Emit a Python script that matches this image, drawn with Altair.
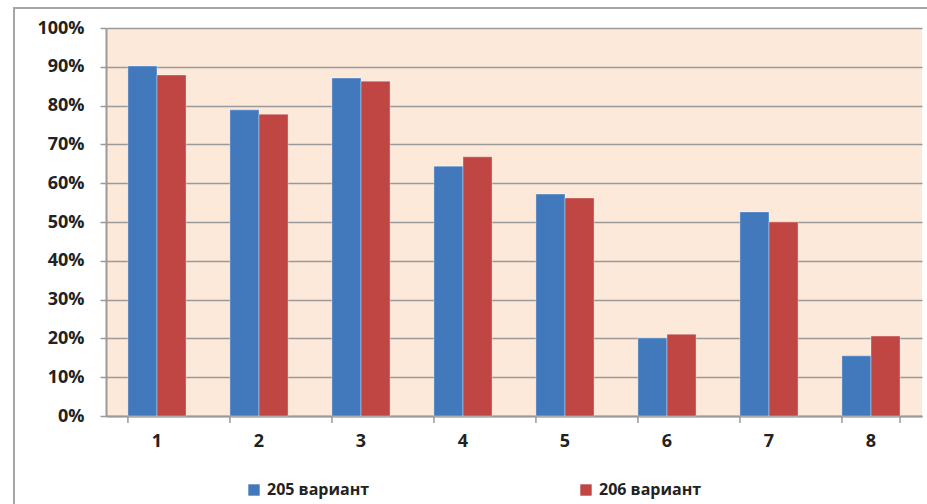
import altair as alt
import pandas as pd

categories = ["1", "2", "3", "4", "5", "6", "7", "8"]
variant_205 = [0.902, 0.789, 0.871, 0.644, 0.572, 0.201, 0.526, 0.155]
variant_206 = [0.879, 0.778, 0.863, 0.668, 0.562, 0.211, 0.500, 0.206]
series_names = ["205 вариант", "206 вариант"]
series_colors = ["#4279BC", "#BF4643"]

rows = []
for i, c in enumerate(categories):
    rows.append({"cat": c, "series": series_names[0], "value": variant_205[i]})
    rows.append({"cat": c, "series": series_names[1], "value": variant_206[i]})
df = pd.DataFrame(rows)
cats_df = pd.DataFrame({"cat": categories})

FONT = "Open Sans"
GRID = "#9A9A9A"
TEXT = "#222222"

x_enc = alt.X(
    "cat:N",
    sort=categories,
    scale=alt.Scale(paddingInner=0.43, paddingOuter=0.215),
    axis=alt.Axis(
        title=None, labelAngle=0, ticks=False, domain=True, domainColor=GRID,
        domainWidth=2, labelFontSize=18, labelFontWeight="bold", labelFont=FONT,
        labelColor=TEXT, labelPadding=16,
    ),
)

bars = alt.Chart(df).mark_bar(strokeWidth=1, strokeOpacity=0.35, stroke="#ffffff").encode(
    x=x_enc,
    xOffset=alt.XOffset("series:N", sort=series_names, scale=alt.Scale(paddingInner=0, paddingOuter=0)),
    y=alt.Y(
        "value:Q",
        scale=alt.Scale(domain=[0, 1], nice=False),
        axis=alt.Axis(
            title=None, format=".0%", values=[i / 10 for i in range(11)],
            grid=True, gridColor=GRID, gridWidth=1.5, domainColor=GRID, domainWidth=2,
            tickColor=GRID, tickSize=6, tickWidth=1.5, labelPadding=16,
            labelFontSize=18, labelFontWeight="bold", labelFont=FONT, labelColor=TEXT,
        ),
    ),
    color=alt.Color(
        "series:N",
        sort=series_names,
        scale=alt.Scale(domain=series_names, range=series_colors),
        legend=alt.Legend(
            title=None, orient="none", legendX=140, legendY=454, direction="horizontal",
            symbolType="square", symbolSize=130, symbolStrokeWidth=0, symbolOpacity=1,
            labelFontSize=16, labelFontWeight="bold", labelFont=FONT, labelColor=TEXT,
            columnPadding=208, labelOffset=5, labelLimit=200,
        ),
    ),
)

# tick marks on the category axis, at the band boundaries
cat_ticks = alt.Chart(cats_df).mark_rule(color=GRID, strokeWidth=1.5).encode(
    x=alt.X("cat:N", sort=categories, bandPosition=0),
    y=alt.value(388),
    y2=alt.value(395),
)
end_tick = alt.Chart(cats_df.tail(1)).mark_rule(color=GRID, strokeWidth=1.5).encode(
    x=alt.X("cat:N", sort=categories, bandPosition=1),
    y=alt.value(388),
    y2=alt.value(395),
)

# outer chart frame
frame = alt.Chart(cats_df.head(1)).mark_rect(fill=None, stroke="#A6A6A6", strokeWidth=2).encode(
    x=alt.value(-92), x2=alt.value(840), y=alt.value(-20), y2=alt.value(500),
)

chart = alt.layer(frame, bars, cat_ticks, end_tick).properties(
    width=816, height=388,
    autosize=alt.AutoSizeParams(type="none"),
    padding={"left": 106, "top": 28, "right": 5, "bottom": 88},
    background="#ffffff",
).configure_view(
    fill="#FCE9DA", stroke=None,
)

chart.save("out.html", embed_options={"renderer": "svg", "actions": False})
